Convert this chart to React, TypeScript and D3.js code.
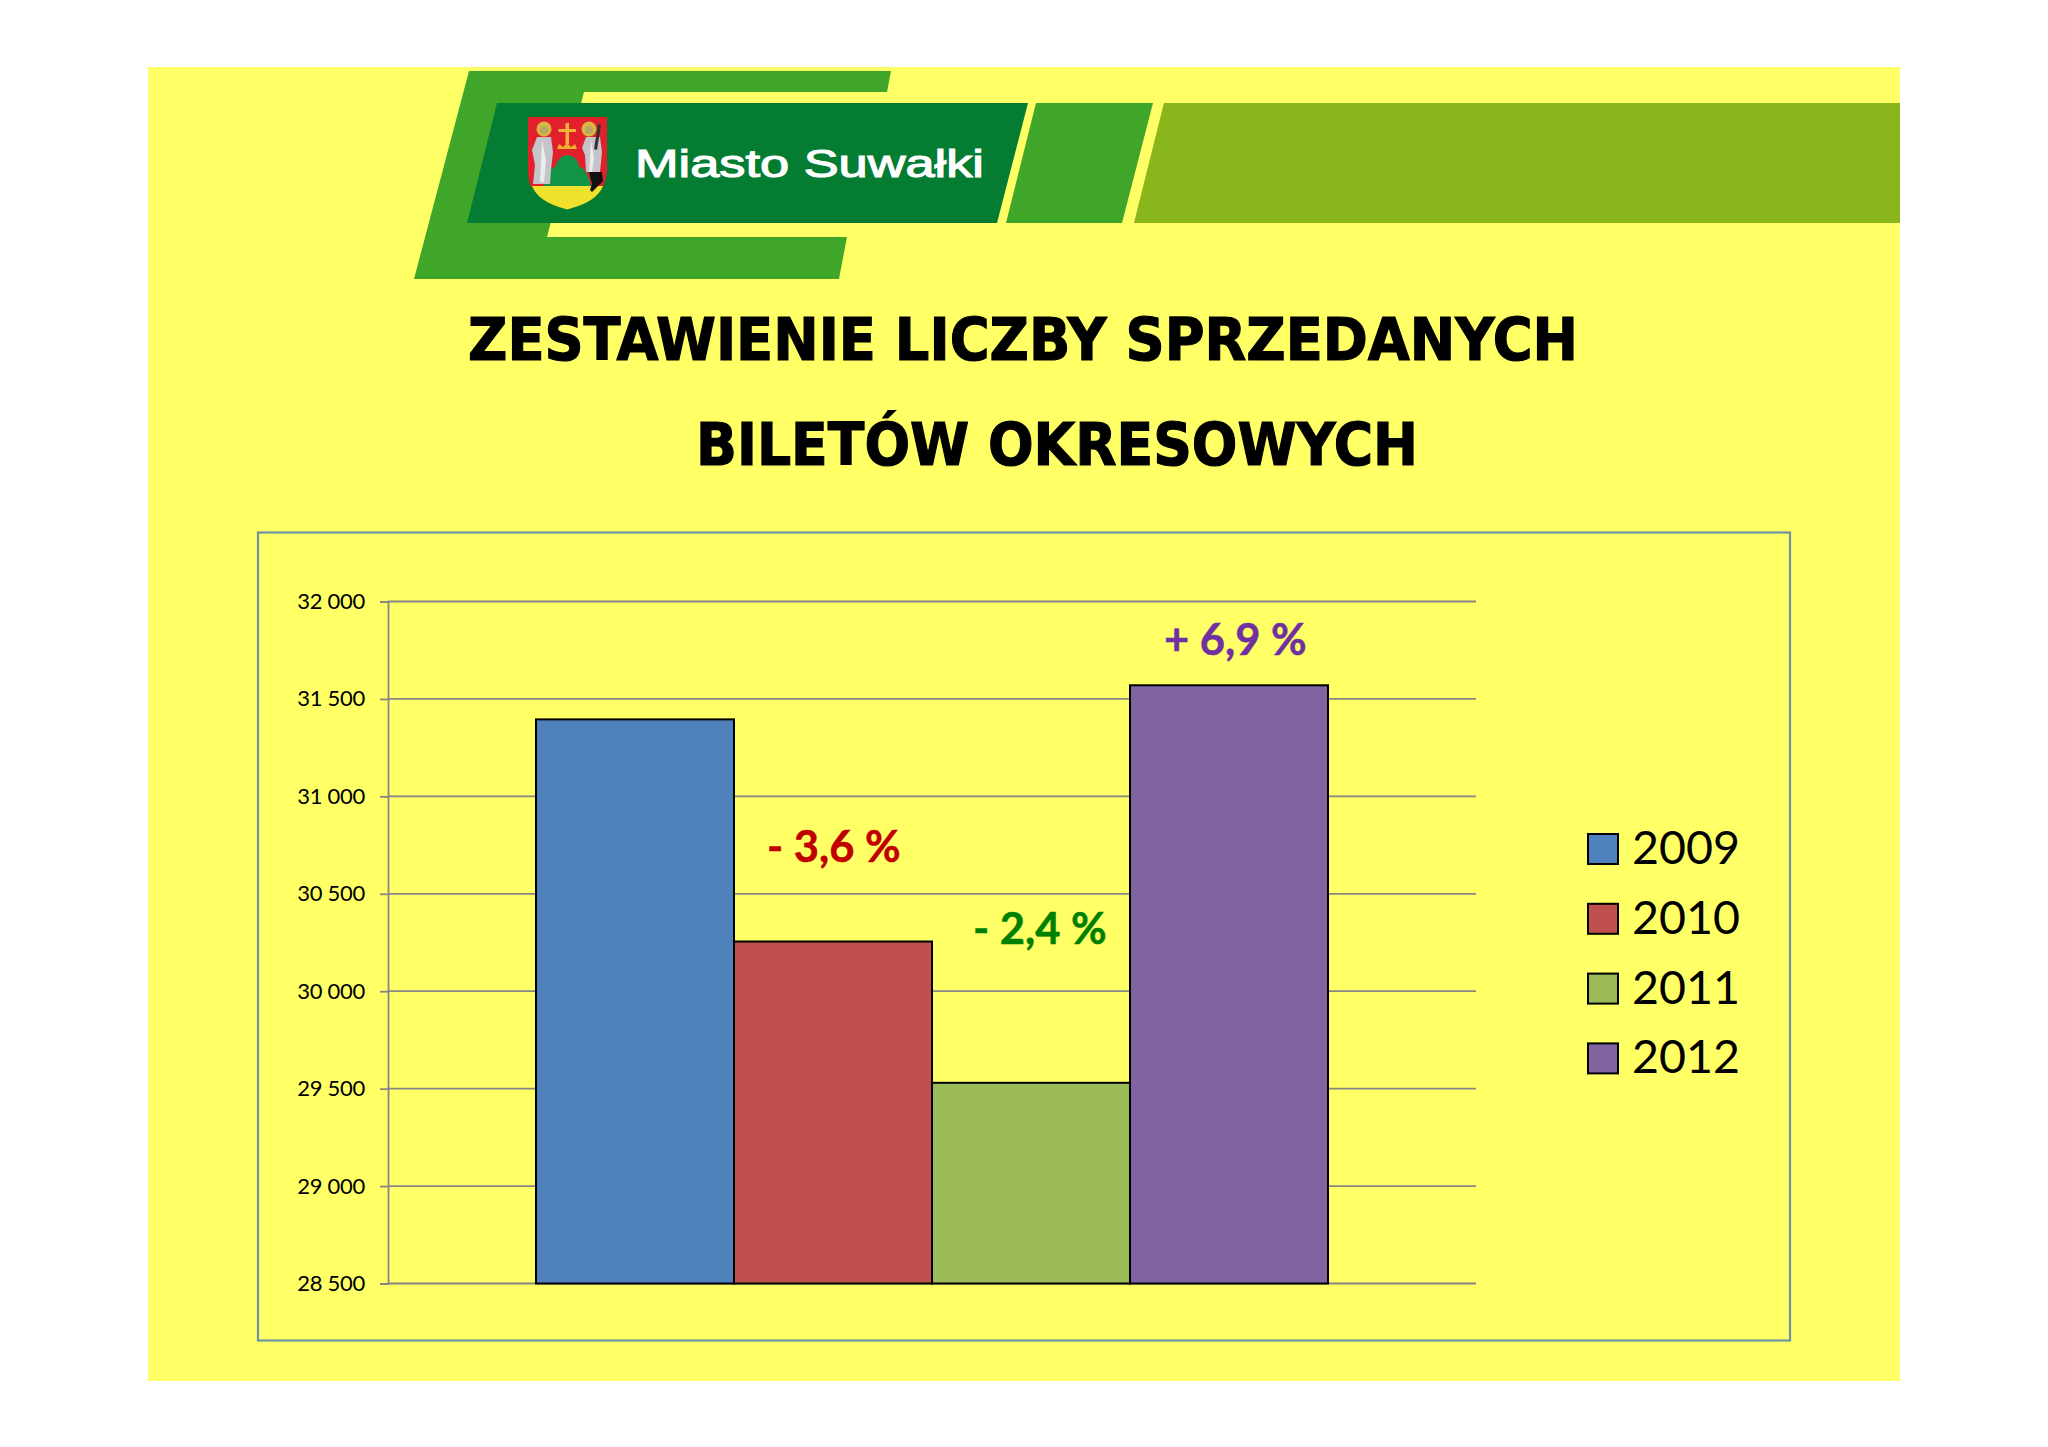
import React, { useEffect, useRef } from "react";
import * as d3 from "d3";

const years = ["2009", "2010", "2011", "2012"];
const tickets = [31395, 30255, 29530, 31570];
const barColors = ["#4F81BD", "#C0504D", "#9BBB59", "#8064A2"];
const yTicks = [28500, 29000, 29500, 30000, 30500, 31000, 31500, 32000];
const changeLabels = ["- 3,6 %", "- 2,4 %", "+ 6,9 %"];
const changeColors = ["#C00000", "#008000", "#7030A0"];
const titleLines = ["ZESTAWIENIE LICZBY SPRZEDANYCH", "BILETÓW OKRESOWYCH"];

const W = 2048;
const H = 1447;
const FONT = "Lato, 'Open Sans', sans-serif";
const TITLE_FONT = "'DejaVu Sans', sans-serif";

function Crest() {
  return (
    <g>
      <path d="M528,117 H607 V172 Q606,180 603,187 H531 Q528,180 528,172 Z" fill="#E2202C" />
      <path d="M532,186 H603 Q597,202 567,209.5 Q538,202 532,186 Z" fill="#EFE12C" />
      <path d="M544,186 Q546,170 556,166 Q558,156 567,155 Q577,156 579,166 Q588,170 591,186 Z" fill="#129447" />
      <path d="M557,149 l2,-5 l4,3 l4,-4 l4,4 l4,-3 l2,5 Z" fill="#F0B030" />
      <path d="M565.5,123 h3.5 v6 h7 v3 h-7 v12 h-3.5 v-12 h-7 v-3 h7 Z" fill="#F5B23A" />
      <circle cx={544} cy={129} r={7.5} fill="#D8B640" />
      <circle cx={589} cy={129} r={7.5} fill="#D8B640" />
      <circle cx={544} cy={130} r={4} fill="#B9A86A" />
      <circle cx={589} cy={130} r={4} fill="#B9A86A" />
      <path d="M537,137 H551 L553,152 L551,170 L550,184 H533 L535,165 L532,150 Z" fill="#C4C4CA" />
      <path d="M542,140 L546,160 L544,182 H540 L541,160 Z" fill="#ECECEC" />
      <path d="M586,137 H600 L602,152 L600,172 H586 L585,155 L582,148 Z" fill="#C4C4CA" />
      <path d="M591,140 L594,158 L592,172 H589 L590,158 Z" fill="#ECECEC" />
      <path d="M598,124 L601,125 L597,150 L594,149 Z" fill="#333" />
      <path d="M589,172 H602 L603,181 L597,187 L592,192 L590,190 L592,184 Z" fill="#111" />
    </g>
  );
}

export default function App() {
  const axisRef = useRef<SVGGElement | null>(null);

  const plotLeft = 388;
  const plotRight = 1476;
  const y = d3.scaleLinear().domain([28500, 32000]).range([1283.5, 601.5]);
  const x = d3.scaleBand().domain(years).range([plotLeft + 148, plotRight - 148]);
  const fmt = d3.formatLocale({ decimal: ",", thousands: " ", grouping: [3], currency: ["", ""] }).format(",d");

  useEffect(() => {
    if (!axisRef.current) return;
    const g = d3.select(axisRef.current);
    g.selectAll("*").remove();
    g.attr("transform", `translate(${plotLeft},0)`)
      .call(d3.axisLeft(y).tickValues(yTicks).tickFormat((d) => fmt(d as number)).tickSize(8).tickPadding(15));
    g.selectAll("path,line").attr("stroke", "#868686").attr("stroke-width", 1.8);
    g.selectAll("text").attr("fill", "#000").attr("font-size", 22).attr("letter-spacing", -0.3).attr("font-family", FONT);
  }, []);

  // label anchors, relative to the bars they sit next to
  const changeX = [x("2010")! + 33, x("2011")! + 41, x("2012")! + 34];
  const changeY = [862, 944, 655];

  return (
    <svg width={W} height={H} viewBox={`0 0 ${W} ${H}`} style={{ position: "absolute", left: 0, top: 0, background: "#fff" }}>
      <rect x={148} y={67} width={1752} height={1314} fill="#FFFF66" />

      {/* header logo */}
      <polygon points="469,71 891,71 887,92 584,92 547,237 847,237 839,279 414,279" fill="#3FA629" />
      <polygon points="497,103 1028,103 997,223 467,223" fill="#047C32" />
      <polygon points="1036,103 1153,103 1122,223 1006,223" fill="#3FA629" />
      <polygon points="1164,103 1900,103 1900,223 1134,223" fill="#88B41C" />
      <Crest />
      <text x={635} y={177} textLength={349} lengthAdjust="spacingAndGlyphs" fontFamily="'Liberation Sans', sans-serif"
        fontSize={38} fill="#fff" stroke="#fff" strokeWidth={1.1}>Miasto Suwałki</text>

      {/* title */}
      <text x={468} y={359.5} textLength={1110} lengthAdjust="spacingAndGlyphs" fontFamily={TITLE_FONT} fontWeight={700} fontSize={59} fill="#000" stroke="#000" strokeWidth={1.2}>{titleLines[0]}</text>
      <text x={696} y={464.5} textLength={722} lengthAdjust="spacingAndGlyphs" fontFamily={TITLE_FONT} fontWeight={700} fontSize={59} fill="#000" stroke="#000" strokeWidth={1.2}>{titleLines[1]}</text>

      {/* chart frame */}
      <rect x={258} y={532.5} width={1532} height={808} fill="none" stroke="#6F93A5" strokeWidth={2.2} />

      {yTicks.map((t) => (
        <line key={t} x1={plotLeft} x2={plotRight} y1={y(t)} y2={y(t)} stroke="#868686" strokeWidth={1.8} />
      ))}
      <g ref={axisRef} />

      {years.map((yr, i) => (
        <rect key={yr} x={x(yr)} y={y(tickets[i])} width={x.bandwidth()} height={y(28500) - y(tickets[i])}
          fill={barColors[i]} stroke="#000" strokeWidth={2} />
      ))}

      {changeLabels.map((l, i) => (
        <text key={l} x={changeX[i]} y={changeY[i]} fontFamily={FONT} fontWeight={700} fontSize={43.5} stroke={changeColors[i]} strokeWidth={0.5} fill={changeColors[i]}>{l}</text>
      ))}

      {/* legend */}
      {years.map((yr, i) => (
        <g key={yr} transform={`translate(1588,${834 + i * 69.8})`}>
          <rect width={30} height={30} fill={barColors[i]} stroke="#000" strokeWidth={2} />
          <text x={44} y={30} fontFamily={FONT} fontSize={46.5} fill="#000">{yr}</text>
        </g>
      ))}
    </svg>
  );
}
